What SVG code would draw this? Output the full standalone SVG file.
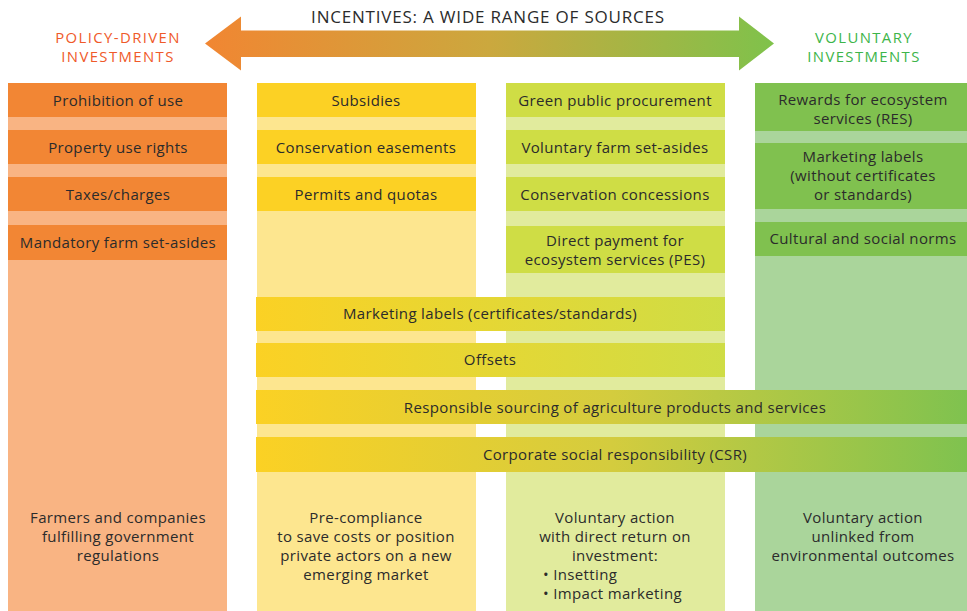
<svg xmlns="http://www.w3.org/2000/svg" width="967" height="611" viewBox="0 0 967 611">
<style>
text{font-family:"Open Sans","Noto Sans",sans-serif;fill:#2b2b2b;font-size:15px;letter-spacing:0.35px;text-anchor:middle}
.hd{font-size:17px;letter-spacing:0.8px}
.pol{fill:#ef5a2a;font-size:14.9px;letter-spacing:1.4px}
.vol{fill:#3db54a;font-size:14.9px;letter-spacing:1.4px}
.c1{fill:#f28634}.p1{fill:#f9b483}
.c2{fill:#fcd124}.p2{fill:#fde68f}
.c3{fill:#cfdd45}.p3{fill:#e1eb9d}
.c4{fill:#80c14f}.p4{fill:#aad59b}
.l{text-anchor:start}
</style>
<defs>
<linearGradient id="arrowGrad" x1="205" y1="0" x2="774" y2="0" gradientUnits="userSpaceOnUse">
<stop offset="0" stop-color="#f18632"/>
<stop offset="0.5" stop-color="#cba83e"/>
<stop offset="1" stop-color="#7fc24b"/>
</linearGradient>
<linearGradient id="bandShort" x1="256" y1="0" x2="725" y2="0" gradientUnits="userSpaceOnUse">
<stop offset="0" stop-color="#fbd124"/>
<stop offset="1" stop-color="#cfdd45"/>
</linearGradient>
<linearGradient id="bandLong" x1="256" y1="0" x2="967" y2="0" gradientUnits="userSpaceOnUse">
<stop offset="0" stop-color="#fbd124"/>
<stop offset="0.5" stop-color="#d4cc3e"/>
<stop offset="1" stop-color="#7fc24f"/>
</linearGradient>
</defs>
<rect width="967" height="611" fill="#ffffff"/>

<g id="header">
<text class="hd" x="488" y="23">INCENTIVES: A WIDE RANGE OF SOURCES</text>
<text class="pol" x="118" y="43">POLICY-DRIVEN</text>
<text class="pol" x="118" y="62">INVESTMENTS</text>
<text class="vol" x="864" y="43">VOLUNTARY</text>
<text class="vol" x="864" y="62">INVESTMENTS</text>
</g>
<g id="connectors">
<path id="header-arrow" d="M205,43.5 L241,16.5 L241,30.5 L739,30.5 L739,16.5 L774,43.5 L739,70.5 L739,57 L241,57 L241,70.5 Z" fill="url(#arrowGrad)"/>
</g>

<g id="col-policy">
<rect class="p1" x="8" y="83" width="219" height="528"/>
<g id="prohibition"><rect class="c1" x="8" y="83" width="219" height="34"/><text x="118" y="105.5">Prohibition of use</text></g>
<g id="property"><rect class="c1" x="8" y="130" width="219" height="34"/><text x="118" y="152.5">Property use rights</text></g>
<g id="taxes"><rect class="c1" x="8" y="177" width="219" height="34"/><text x="118" y="199.5">Taxes/charges</text></g>
<g id="mandatory"><rect class="c1" x="8" y="225" width="219" height="35"/><text x="118" y="248">Mandatory farm set-asides</text></g>
<g id="policy-desc"><text x="118" y="523">Farmers and companies</text><text x="118" y="542">fulfilling government</text><text x="118" y="561">regulations</text></g>
</g>

<g id="col-precompliance">
<rect class="p2" x="257" y="83" width="219" height="528"/>
<g id="subsidies"><rect class="c2" x="257" y="83" width="219" height="34"/><text x="366" y="105.5">Subsidies</text></g>
<g id="easements"><rect class="c2" x="257" y="130" width="219" height="34"/><text x="366" y="152.5">Conservation easements</text></g>
<g id="permits"><rect class="c2" x="257" y="177" width="219" height="34"/><text x="366" y="199.5">Permits and quotas</text></g>
<g id="precompliance-desc"><text x="366" y="523">Pre-compliance</text><text x="366" y="542">to save costs or position</text><text x="366" y="561">private actors on a new</text><text x="366" y="580">emerging market</text></g>
</g>

<g id="col-voluntary-return">
<rect class="p3" x="506" y="83" width="219" height="528"/>
<g id="green-procurement"><rect class="c3" x="506" y="83" width="219" height="34"/><text x="615" y="105.5">Green public procurement</text></g>
<g id="voluntary-setasides"><rect class="c3" x="506" y="130" width="219" height="34"/><text x="615" y="152.5">Voluntary farm set-asides</text></g>
<g id="concessions"><rect class="c3" x="506" y="177" width="219" height="34"/><text x="615" y="199.5">Conservation concessions</text></g>
<g id="pes"><rect class="c3" x="506" y="226" width="219" height="47"/><text x="615" y="245.5">Direct payment for</text><text x="615" y="264.5">ecosystem services (PES)</text></g>
<g id="return-desc"><text x="615" y="523">Voluntary action</text><text x="615" y="542">with direct return on</text><text x="615" y="561">investment:</text><text class="l" x="543" y="580">• Insetting</text><text class="l" x="543" y="599">• Impact marketing</text></g>
</g>

<g id="col-voluntary">
<rect class="p4" x="755" y="83" width="212" height="528"/>
<g id="res"><rect class="c4" x="755" y="83" width="212" height="48"/><text x="863" y="104.5">Rewards for ecosystem</text><text x="863" y="123.5">services (RES)</text></g>
<g id="labels-nocert"><rect class="c4" x="755" y="143" width="212" height="66"/><text x="863" y="162">Marketing labels</text><text x="863" y="181">(without certificates</text><text x="863" y="200">or standards)</text></g>
<g id="norms"><rect class="c4" x="755" y="222" width="212" height="34"/><text x="863" y="243.5">Cultural and social norms</text></g>
<g id="voluntary-desc"><text x="863" y="523">Voluntary action</text><text x="863" y="542">unlinked from</text><text x="863" y="561">environmental outcomes</text></g>
</g>

<g id="bands">
<g id="labels-cert"><rect x="256" y="297" width="469" height="34" fill="url(#bandShort)"/><text x="490" y="318.5">Marketing labels (certificates/standards)</text></g>
<g id="offsets"><rect x="256" y="343" width="469" height="34" fill="url(#bandShort)"/><text x="490" y="365">Offsets</text></g>
<g id="sourcing"><rect x="256" y="390" width="711" height="34" fill="url(#bandLong)"/><text x="615" y="412.5">Responsible sourcing of agriculture products and services</text></g>
<g id="csr"><rect x="256" y="437" width="711" height="35" fill="url(#bandLong)"/><text x="615" y="459.5">Corporate social responsibility (CSR)</text></g>
</g>
</svg>
